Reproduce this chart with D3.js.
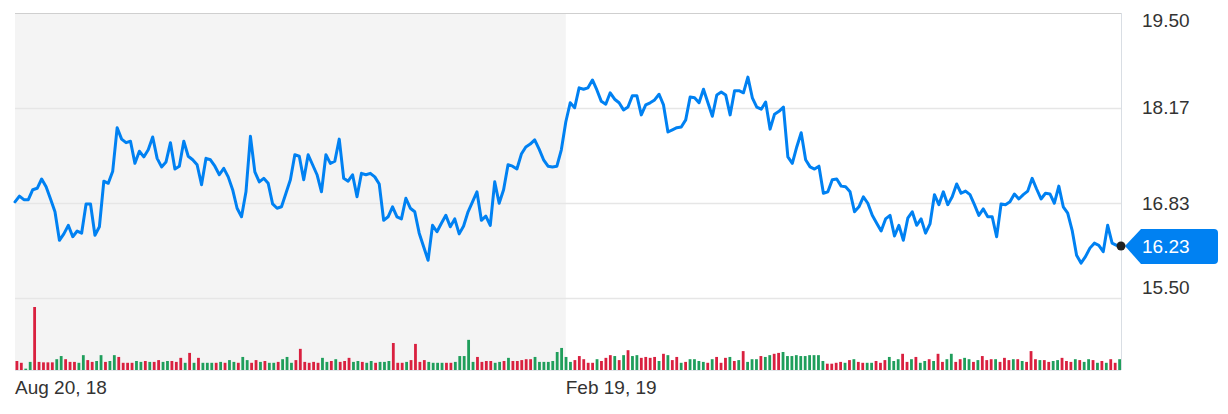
<!DOCTYPE html>
<html>
<head>
<meta charset="utf-8">
<script src="https://cdn.jsdelivr.net/npm/d3@7"></script>
<style>
html,body{margin:0;padding:0;background:#fff;}
svg{display:block;font-family:"Liberation Sans",Arial,Helvetica,sans-serif;}
</style>
</head>
<body>
<svg id="chart" width="1228" height="414"></svg>
<script>
// ---- data ----
const prices = [
16.85,16.93,16.88,16.88,17.02,17.04,17.17,17.06,16.89,16.71,
16.31,16.40,16.52,16.36,16.44,16.41,16.82,16.82,16.38,16.50,
17.14,17.11,17.28,17.89,17.73,17.68,17.70,17.39,17.56,17.48,
17.58,17.76,17.46,17.34,17.41,17.68,17.31,17.35,17.70,17.49,
17.44,17.37,17.09,17.46,17.44,17.35,17.23,17.32,17.20,17.02,
16.76,16.64,16.99,17.77,17.27,17.13,17.18,17.11,16.82,16.76,
16.78,16.97,17.16,17.51,17.49,17.16,17.51,17.37,17.23,16.99,
17.51,17.39,17.42,17.73,17.18,17.14,17.23,16.92,17.25,17.23,
17.25,17.20,17.10,16.59,16.64,16.78,16.64,16.61,16.90,16.76,
16.71,16.41,16.22,16.03,16.52,16.43,16.55,16.66,16.50,16.61,
16.40,16.51,16.71,16.85,16.99,16.59,16.65,16.52,17.13,16.83,
17.02,17.37,17.35,17.31,17.52,17.62,17.66,17.72,17.59,17.44,
17.35,17.34,17.35,17.58,17.97,18.24,18.17,18.45,18.43,18.45,
18.56,18.42,18.26,18.22,18.38,18.29,18.24,18.14,18.18,18.34,
18.34,18.07,18.21,18.24,18.28,18.36,18.21,17.83,17.86,17.89,
17.90,18.00,18.32,18.31,18.24,18.43,18.24,18.05,18.35,18.39,
18.35,18.07,18.41,18.41,18.38,18.60,18.31,18.18,18.15,18.25,
17.87,18.08,18.12,18.18,17.48,17.39,17.62,17.82,17.44,17.34,
17.31,17.35,16.97,16.99,17.16,17.17,17.07,17.06,16.99,16.71,
16.78,16.92,16.83,16.66,16.55,16.44,16.61,16.66,16.37,16.52,
16.31,16.62,16.71,16.52,16.61,16.41,16.54,16.95,16.81,16.99,
16.81,16.92,17.10,16.97,17.00,16.95,16.81,16.66,16.75,16.64,
16.64,16.36,16.82,16.81,16.85,16.96,16.89,16.95,17.00,17.18,
17.03,16.89,16.97,16.96,16.83,17.07,16.78,16.69,16.45,16.10,
15.99,16.08,16.20,16.27,16.24,16.15,16.52,16.27,16.24,16.23
];
const volumes = [
2.0,1.6,0.3,1.8,14.0,1.8,1.7,1.7,1.7,2.4,
3.1,2.4,1.8,1.8,1.6,3.3,2.2,1.8,2.0,3.3,
1.8,2.0,3.3,2.9,1.6,1.6,1.6,2.0,1.8,2.0,
1.8,1.8,2.2,1.8,2.0,2.0,1.8,2.7,1.6,3.8,
1.6,2.7,1.6,1.6,1.6,1.6,1.8,1.6,2.2,1.8,
1.6,2.9,2.2,1.6,2.2,1.8,2.0,1.6,1.6,1.8,
2.4,2.9,1.6,2.2,4.7,1.8,1.6,1.8,1.6,2.7,
1.8,2.0,2.4,1.8,2.0,2.7,1.8,2.0,1.8,1.6,
2.0,1.6,1.8,1.8,2.0,6.0,1.6,1.6,1.8,2.2,
5.8,1.8,2.2,1.8,1.6,1.6,1.6,1.6,1.6,1.8,
3.1,3.1,6.7,1.8,2.9,1.8,2.0,2.0,1.6,1.8,
2.0,2.7,2.0,2.0,2.2,2.4,2.4,2.9,1.8,1.8,
1.8,2.0,4.0,4.9,2.9,1.8,2.2,3.1,2.4,1.6,
1.6,2.4,2.0,2.7,3.3,3.1,2.2,3.3,4.4,3.1,
3.3,2.7,2.9,2.7,2.9,2.0,3.6,3.3,2.2,2.9,
1.6,1.8,2.4,2.4,2.0,1.8,1.6,2.4,2.9,1.6,
2.7,2.9,2.0,2.2,4.2,1.8,2.4,2.4,3.1,2.9,
3.3,3.6,3.8,4.0,3.1,3.1,3.3,3.1,3.1,3.3,
3.3,3.3,2.0,1.4,1.4,1.6,1.8,1.6,2.2,2.4,
1.8,1.6,1.6,1.6,2.0,1.6,2.2,2.9,2.0,2.4,
3.6,1.8,2.4,2.9,1.6,2.0,2.4,2.0,3.6,1.8,
2.4,3.6,1.8,2.4,2.7,2.4,1.8,2.2,3.1,2.2,
2.4,2.4,1.8,2.7,2.2,2.4,2.4,2.0,1.8,4.2,
2.4,2.2,2.2,1.8,2.0,2.2,2.7,2.0,1.8,2.4,
2.2,1.8,2.4,2.2,1.6,2.0,1.6,2.4,1.6,2.4
];
// 1 = up day (green volume bar), 0 = down day (red volume bar)
const volumeUp = [
0,0,1,1,0,0,0,0,0,1,
1,0,0,0,1,1,0,0,1,1,
0,1,1,0,0,0,0,1,1,0,
1,0,0,1,1,0,0,0,1,0,
1,0,1,1,1,0,1,0,1,1,
0,1,1,0,0,1,0,1,1,0,
1,1,1,0,0,0,0,0,0,1,
1,0,1,0,0,0,1,1,0,1,
1,0,1,1,1,0,0,0,1,0,
0,0,0,1,1,1,1,0,0,1,
1,1,1,1,0,0,0,0,1,1,
0,1,0,0,0,0,0,1,1,1,
1,1,1,1,1,1,0,0,0,0,
0,1,0,0,0,1,0,1,0,1,
1,0,0,0,0,1,0,1,0,0,
1,0,1,1,1,1,0,1,0,0,
0,1,0,1,0,1,1,1,0,1,
1,0,0,1,1,1,1,1,1,1,
1,1,1,0,0,0,0,1,0,1,
0,0,1,1,0,0,0,1,1,1,
0,0,1,0,1,1,0,1,0,0,
1,1,0,0,1,1,0,1,0,0,
0,1,0,0,0,1,0,1,0,0,
0,1,0,0,1,1,0,0,0,1,
0,1,1,0,1,0,1,0,0,1
];
const yTickValues = [19.50, 18.17, 16.83, 15.50];
const xTickLabels = ["Aug 20, 18", "Feb 19, 19"];
const xTickIndex = [0, 124];
const previousPeriodEnd = 124;
const lastPrice = 16.23;

// ---- layout ----
const svg = d3.select("#chart");
const pLeft = 15, pRight = 1121, pTop = 13, priceBottom = 298, volBottom = 370;
const barW = 2.8;

const x = d3.scaleLinear().domain([0, prices.length - 1]).range([pLeft, pRight]);
const xb = d3.scaleLinear().domain([0, volumes.length - 1]).range([pLeft + 0.5, pRight - barW]);
const y = d3.scaleLinear().domain([15.50, 19.50]).range([priceBottom, pTop]);
const yv = d3.scaleLinear().domain([0, 14]).range([volBottom, volBottom - 63]);

// shaded previous period
svg.append("rect")
  .attr("x", pLeft).attr("y", pTop)
  .attr("width", x(previousPeriodEnd) - pLeft)
  .attr("height", volBottom - pTop)
  .attr("fill", "#f4f4f4");

// gridlines
svg.append("g").selectAll("line").data(yTickValues.slice(1)).join("line")
  .attr("x1", pLeft).attr("x2", pRight)
  .attr("y1", d => Math.round(y(d)) + 0.5).attr("y2", d => Math.round(y(d)) + 0.5)
  .attr("stroke", "#e6e6e6").attr("stroke-width", 1.5);

// top border
svg.append("line").attr("x1", pLeft).attr("x2", pRight)
  .attr("y1", pTop + 0.5).attr("y2", pTop + 0.5)
  .attr("stroke", "#cfcfcf").attr("stroke-width", 1);

// right border
svg.append("line").attr("x1", pRight + 0.5).attr("x2", pRight + 0.5)
  .attr("y1", pTop).attr("y2", volBottom)
  .attr("stroke", "#d9dee4").attr("stroke-width", 1);

// volume bars
svg.append("g").selectAll("rect").data(volumes).join("rect")
  .attr("x", (d, i) => xb(i))
  .attr("width", barW)
  .attr("y", d => yv(d))
  .attr("height", d => volBottom - yv(d))
  .attr("fill", (d, i) => volumeUp[i] ? "#1f9e5b" : "#d9203f");

// bottom baseline of volume
svg.append("line").attr("x1", pLeft).attr("x2", pRight)
  .attr("y1", volBottom + 0.5).attr("y2", volBottom + 0.5)
  .attr("stroke", "#e3e6ea").attr("stroke-width", 1);

// price line
svg.append("path").datum(prices)
  .attr("fill", "none")
  .attr("stroke", "#0081f2")
  .attr("stroke-width", 3)
  .attr("stroke-linejoin", "round")
  .attr("stroke-linecap", "round")
  .attr("d", d3.line().x((d, i) => x(i)).y(d => y(d)));

// right axis labels
svg.append("g").selectAll("text").data(yTickValues).join("text")
  .attr("x", 1142)
  .attr("y", d => Math.min(Math.max(y(d), pTop + 7), priceBottom - 11))
  .attr("dy", "0.35em")
  .attr("font-size", 19)
  .attr("fill", "#333")
  .text(d => d.toFixed(2));

// bottom axis labels
svg.append("g").selectAll("text").data(xTickLabels).join("text")
  .attr("x", (d, i) => x(xTickIndex[i]))
  .attr("y", 387)
  .attr("dy", "0.35em")
  .attr("font-size", 19)
  .attr("fill", "#333")
  .text(d => d);

// last price marker
const ly = y(lastPrice);
const bx = pRight + 20;
svg.append("path")
  .attr("d", `M${pRight + 4},${ly} L${bx},${ly - 17} L1214,${ly - 17} Q1218,${ly - 17} 1218,${ly - 13} L1218,${ly + 14} Q1218,${ly + 18} 1214,${ly + 18} L${bx},${ly + 18} Z`)
  .attr("fill", "#0081f2");
svg.append("text")
  .attr("x", 1142).attr("y", ly).attr("dy", "0.35em")
  .attr("font-size", 19).attr("fill", "#fff")
  .text(lastPrice.toFixed(2));
svg.append("circle").attr("cx", x(prices.length - 1)).attr("cy", ly).attr("r", 4.5).attr("fill", "#222");
</script>
</body>
</html>
